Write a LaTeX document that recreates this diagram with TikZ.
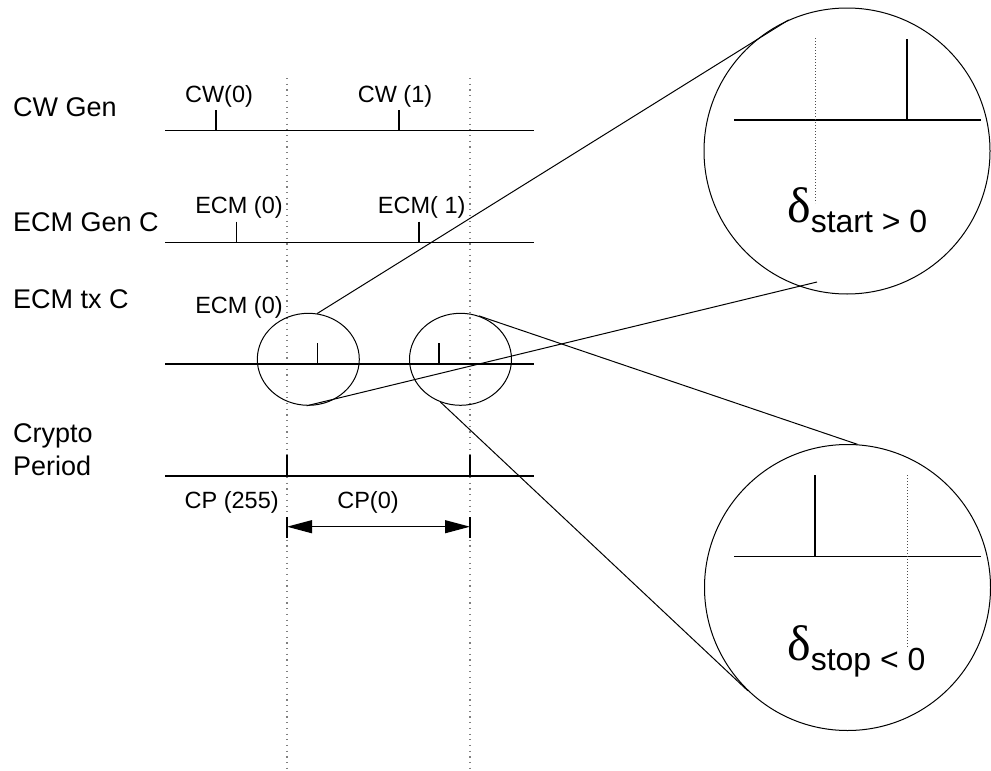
\documentclass[tikz,border=0pt]{standalone}
\usepackage{fontspec}
\setmainfont{Liberation Sans}
\newfontfamily\greekfont{Liberation Serif}
\usetikzlibrary{shapes.geometric,arrows.meta}
\begin{document}
\begin{tikzpicture}[x=1pt,y=-1pt,
  axis/.style={line width=1.1pt},
  tick/.style={line width=1.1pt},
  guide/.style={draw=black!50,line width=1.2pt,dash pattern=on 1.2pt off 4.5pt},
  lens/.style={draw,line width=1pt,ellipse,minimum width=102pt,minimum height=92pt,inner sep=0pt},
  bigc/.style={draw,line width=1pt,circle,minimum size=286pt,inner sep=0pt},
  conn/.style={line width=1pt},
  biglbl/.style={anchor=base west,inner sep=0pt,font=\fontsize{27}{31}\selectfont,align=left},
  smalllbl/.style={anchor=base,inner sep=0pt,font=\fontsize{23.5}{27}\selectfont},
  dlbl/.style={anchor=base west,inner sep=0pt}
]
\useasboundingbox (0,0) rectangle (991,771);

% guide lines
\draw[guide] (287,78) -- (287,771);
\draw[guide] (470,78) -- (470,771);

% row labels
\node[biglbl] (lcw) at (13,116) {CW Gen};
\node[biglbl] (lecm) at (13,231.5) {ECM Gen C};
\node[biglbl] (ltx) at (13,308) {ECM tx C};
\node[biglbl] (lcr) at (13,442) {Crypto};
\node[biglbl] (lpe) at (13,475) {Period};

% timelines
\draw[axis] (165,130.5) -- (534,130.5);
\draw[axis] (165,242.5) -- (534,242.5);
\draw[axis] (165,364) -- (534,364);
\draw[axis] (165,476) -- (534,476);

% ticks
\draw[tick] (216,110) -- (216,130.5);
\draw[tick] (399,110) -- (399,130.5);
\draw[tick] (236.7,221.5) -- (236.7,242.5);
\draw[tick] (419,221.5) -- (419,242.5);
\draw[tick] (317.7,343) -- (317.7,364);
\draw[tick] (439,343) -- (439,364);
\draw[tick] (287,455) -- (287,476);
\draw[tick] (470,455) -- (470,476);

% tick labels
\node[smalllbl] (cw0) at (219,102) {CW(0)};
\node[smalllbl] (cw1) at (395,102) {CW (1)};
\node[smalllbl] (ecm0) at (239,213) {ECM (0)};
\node[smalllbl] (ecm1) at (421.7,213) {ECM( 1)};
\node[smalllbl] (tx0) at (239,313) {ECM (0)};
\node[smalllbl] (cp255) at (231.7,508) {CP (255)};
\node[smalllbl] (cp0) at (368,508) {CP(0)};

% crypto period arrow
\draw[tick] (287,517) -- (287,538);
\draw[tick] (470,517) -- (470,538);
\coordinate (pa) at (287,526.7);
\coordinate (pb) at (470,526.7);
\draw[line width=1.1pt,{Triangle[length=25pt,width=13pt]}-{Triangle[length=25pt,width=13pt]}] (pa) -- (pb);

% small lenses
\node[lens] (e1) at (308.3,359.3) {};
\node[lens] (e2) at (460.5,359.3) {};

% big circles
\node[bigc] (B1) at (847,151) {};
\node[bigc] (B2) at (847.5,587.5) {};

% content of big circle 1
\draw[axis] (734,120) -- (981,120);
\draw[tick] (907,39) -- (907,120);
\draw[draw=black!70,line width=0.9pt,dash pattern=on 1pt off 2pt] (815,38) -- (815,203);
\node[dlbl] (d1) at (787,222) {{\greekfont\fontsize{50}{52}\selectfont δ}\raisebox{-10pt}{\fontsize{32}{36}\selectfont start > 0}};

% content of big circle 2
\draw[axis] (734,556.7) -- (981,556.7);
\draw[tick] (815,475) -- (815,556.7);
\draw[draw=black!70,line width=0.9pt,dash pattern=on 1pt off 2pt] (907,475) -- (907,647);
\node[dlbl] (d2) at (787,660) {{\greekfont\fontsize{50}{52}\selectfont δ}\raisebox{-10pt}{\fontsize{32}{36}\selectfont stop < 0}};

% connectors
\coordinate (z2) at (817,282);
\draw[conn] (e1.79) -- (B1.114);
\draw[conn] (e1.-92) -- (z2);
\draw[conn] (e2.67) -- (B2.86);
\draw[conn] (e2.-115) -- (B2.-134);
\end{tikzpicture}
\end{document}
